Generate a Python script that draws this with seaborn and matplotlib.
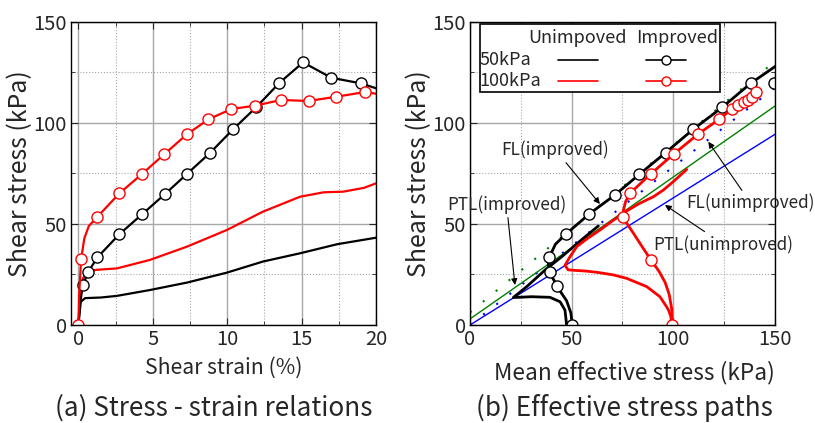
import seaborn as sns
import numpy as np
import matplotlib.pyplot as plt
from matplotlib.patches import Rectangle
from matplotlib.lines import Line2D

# ---- data: (a) stress - strain ----
strain_un50 = [0, 0.08, 0.16, 0.45, 1.5, 2.58, 4.8, 7.3, 9.97, 12.4, 14.9, 17.4, 20]
stress_un50 = [0, 6, 11.5, 13.3, 13.6, 14.4, 17.3, 21, 25.9, 31.4, 35.5, 40, 43.2]

strain_un100 = [0, 0.1, 0.3, 0.6, 1.2, 2.58, 4.8, 7.3, 9.97, 12.4, 14.9, 16.5, 17.8, 19.2, 20]
stress_un100 = [0, 15, 23, 26.5, 27.3, 28, 32.2, 38.8, 47, 56.1, 63.5, 65.7, 66, 67.9, 70.1]

strain_im50 = [0, 0.1, 0.3, 0.67, 1.28, 2.76, 4.28, 5.8, 7.3, 8.86, 10.4, 11.95, 13.5, 15.1, 17.0, 19.0, 20.0]
stress_im50 = [0, 10, 19.8, 26.4, 33.5, 45, 54.8, 64.7, 74.8, 85.3, 96.9, 107.8, 119.8, 130, 122.4, 119.6, 117.2]
mk_im50 = [2, 3, 4, 5, 6, 7, 8, 9, 10, 11, 12, 13, 14, 15]

strain_im100 = [0, 0.05, 0.18, 0.4, 0.7, 1.28, 2.76, 4.28, 5.78, 7.29, 8.74, 10.27, 11.88, 13.63, 15.47, 17.33, 19.24, 20]
stress_im100 = [0, 15, 32.5, 43, 49, 53.6, 65.2, 74.8, 84.6, 94.4, 101.8, 106.9, 108.6, 111.4, 110.9, 113, 115.3, 114.5]
mk_im100 = [0, 2, 5, 6, 7, 8, 9, 10, 11, 12, 13, 14, 15, 16]

# ---- data: (b) effective stress paths ----
p_un50 = [47.5, 47.2, 46.7, 44.3, 39.3, 30.3, 23.8, 21.3, 27.9, 36.9, 45.1, 55.7, 63.1]
q_un50 = [0, 3, 7.4, 11.5, 13.7, 14.0, 13.7, 13.6, 19.0, 27.2, 33.8, 42.9, 49.0]

p_un100 = [99.2, 98.8, 97.8, 96.7, 93.4, 86.9, 77, 70.5, 63, 57, 52, 48.3, 46.7, 49, 52.5, 58, 63.9, 70, 77, 83, 90.2, 95.1, 100, 106.6]
q_un100 = [0, 4, 7, 9, 14, 19, 23.1, 24.8, 26, 26.7, 27.0, 27.3, 29.5, 33.5, 38.8, 43, 47, 51.5, 56.4, 60, 63.5, 66.8, 71, 77]

p_im50 = [50.3, 49.6, 47.5, 44.5, 42.9, 40.8, 39.3, 38.5, 39.0, 42.0, 47.2, 58.7, 71.3, 83.3, 96.2, 109.8, 124.1, 138.0, 153.0, 152.5, 149.5]
q_im50 = [0, 6, 12, 16.5, 19.3, 23, 26.4, 30, 33.5, 40, 45, 55, 64.4, 74.6, 85.3, 96.9, 107.8, 119.6, 130, 122.4, 119.6]
mk_pim50 = [0, 4, 6, 8, 10, 11, 12, 13, 14, 15, 16, 17, 20]

p_im100 = [99.5, 99.2, 98, 96, 93, 89, 84.5, 80, 75.1, 75.5, 76.5, 78.7, 88.9, 100.3, 112.3, 122.5, 128.7, 132.0, 134.6, 136.6, 138.6, 140.7]
q_im100 = [0, 8, 15, 21, 26.5, 32.2, 39, 46, 53.3, 57, 61, 65.2, 74.8, 84.7, 94.6, 101.8, 106.8, 108.7, 110.4, 111.4, 113, 115.3]
mk_pim100 = [0, 5, 8, 11, 12, 13, 14, 15, 16, 17, 18, 19, 20, 21]

# reference lines (p, q at p = 0 and 150)
p_ref = [0, 150]
q_fl_un = [3.0, 108.4]    # FL(unimproved) green
q_ptl_un = [0, 94.4]      # PTL(unimproved) blue
q_fl_im = [6.2, 130.5]    # FL(improved) green dotted
q_ptl_im = [0, 117.5]     # PTL(improved) blue dotted

sns.set_style("ticks")
plt.rcParams['font.family'] = ['Noto Sans CJK KR', 'DejaVu Sans']

fig = plt.figure(figsize=(8.15, 4.23), dpi=100)
ax1 = fig.add_axes([0.0871, 0.2317, 0.3742, 0.7163])
ax2 = fig.add_axes([0.5767, 0.2317, 0.3742, 0.7163])

mk = dict(marker='o', ms=8, mfc='white', mew=1.0)


def line(ax, x, y, color, lw=1.6, **kw):
    sns.lineplot(x=x, y=y, sort=False, estimator=None, ax=ax, color=color,
                 lw=lw, legend=False, **kw)


# (a)
line(ax1, strain_un50, stress_un50, 'black')
line(ax1, strain_un100, stress_un100, 'red')
line(ax1, strain_im50, stress_im50, 'black', markevery=mk_im50, mec='black', **mk)
line(ax1, strain_im100, stress_im100, 'red', markevery=mk_im100, mec='red', **mk)

# (b)
line(ax2, p_ref, q_fl_im, 'green', lw=1.5, linestyle=(0, (1, 7)))
line(ax2, p_ref, q_ptl_im, 'blue', lw=1.5, linestyle=(0, (1, 7)))
line(ax2, p_ref, q_fl_un, 'green', lw=1.0)
line(ax2, p_ref, q_ptl_un, 'blue', lw=1.0)
line(ax2, p_un50, q_un50, 'black', lw=2.0)
line(ax2, p_un100, q_un100, 'red', lw=2.0)
line(ax2, p_im50, q_im50, 'black', lw=2.0, markevery=mk_pim50, mec='black', **mk)
line(ax2, p_im100, q_im100, 'red', lw=2.0, markevery=mk_pim100, mec='red', **mk)

fs = 14.5
for ax in (ax1, ax2):
    ax.set_ylim(0, 150)
    ax.set_yticks([0, 50, 100, 150])
    ax.set_yticks([25, 75, 125], minor=True)
    ax.grid(which='major', color='#a8a8a8', lw=1.0, ls='-')
    ax.grid(which='minor', color='#a8a8a8', lw=0.8, ls=':')
    ax.set_axisbelow(True)
    ax.tick_params(which='both', direction='in', top=True, right=True, labelsize=fs)
    ax.tick_params(which='major', length=5, pad=3)
    ax.tick_params(which='minor', length=3)
    for s in ax.spines.values():
        s.set_linewidth(1.0)
        s.set_color('black')
    ax.set_ylabel('Shear stress (kPa)', fontsize=18, labelpad=0)

ax1.set_xlim(-0.5, 20)
ax1.set_xticks([0, 5, 10, 15, 20])
ax1.set_xticks([2.5, 7.5, 12.5, 17.5], minor=True)
ax1.set_xlabel('Shear strain (%)', fontsize=15.2, labelpad=5)

ax2.set_xlim(0, 150)
ax2.set_xticks([0, 50, 100, 150])
ax2.set_xticks([25, 75, 125], minor=True)
ax2.set_xlabel('Mean effective stress (kPa)', fontsize=16.3)
ax2.xaxis.set_label_coords(0.54, -0.118)

# annotations
arr = dict(arrowstyle='-|>', color='black', lw=0.8, mutation_scale=9, shrinkA=0, shrinkB=0)
afs = 12.3
ax2.annotate('FL(improved)', xy=(63.9, 59.9), xytext=(42.1, 86.6), fontsize=afs,
             ha='center', va='center', arrowprops=arr)
ax2.annotate('PTL(improved)', xy=(22.1, 19.8), xytext=(18, 59.4), fontsize=afs,
             ha='center', va='center', arrowprops=arr)
ax2.annotate('FL(unimproved)', xy=(117.2, 90.7), xytext=(138, 60.4), fontsize=afs,
             ha='center', va='center', arrowprops=arr, annotation_clip=False)
ax2.annotate('PTL(unimproved)', xy=(95.9, 59.4), xytext=(124.6, 40), fontsize=afs,
             ha='center', va='center', arrowprops=arr)
for t in ax2.texts:
    t.set_clip_on(False)
    t.arrow_patch.set_clip_on(False)

# legend box
lfs = 13
tr = ax2.transAxes
ax2.add_patch(Rectangle((0.033, 0.768), 0.786, 0.226, transform=tr, fc='white',
                        ec='black', lw=1.2, zorder=10))
ax2.text(0.353, 0.946, 'Unimpoved', transform=tr, ha='center', va='center', fontsize=lfs, zorder=11)
ax2.text(0.680, 0.946, 'Improved', transform=tr, ha='center', va='center', fontsize=lfs, zorder=11)
ax2.text(0.030, 0.873, '50kPa', transform=tr, ha='left', va='center', fontsize=lfs, zorder=11)
ax2.text(0.030, 0.805, '100kPa', transform=tr, ha='left', va='center', fontsize=lfs, zorder=11)
for yy, c in ((0.873, 'black'), (0.805, 'red')):
    ax2.add_line(Line2D([0.290, 0.421], [yy, yy], transform=tr, color=c, lw=1.2, zorder=11))
    ax2.add_line(Line2D([0.577, 0.708], [yy, yy], transform=tr, color=c, lw=1.2, zorder=11))
    ax2.add_line(Line2D([0.6425], [yy], transform=tr, color=c, marker='o', ms=6.5,
                        mfc='white', mec=c, mew=1.0, zorder=12))

fig.text(214 / 815, 1 - 408 / 423, '(a) Stress - strain relations', ha='center', va='center', fontsize=18.8)
fig.text(624 / 815, 1 - 408 / 423, '(b) Effective stress paths', ha='center', va='center', fontsize=18.8)

fig.savefig('out.png', dpi=100)
